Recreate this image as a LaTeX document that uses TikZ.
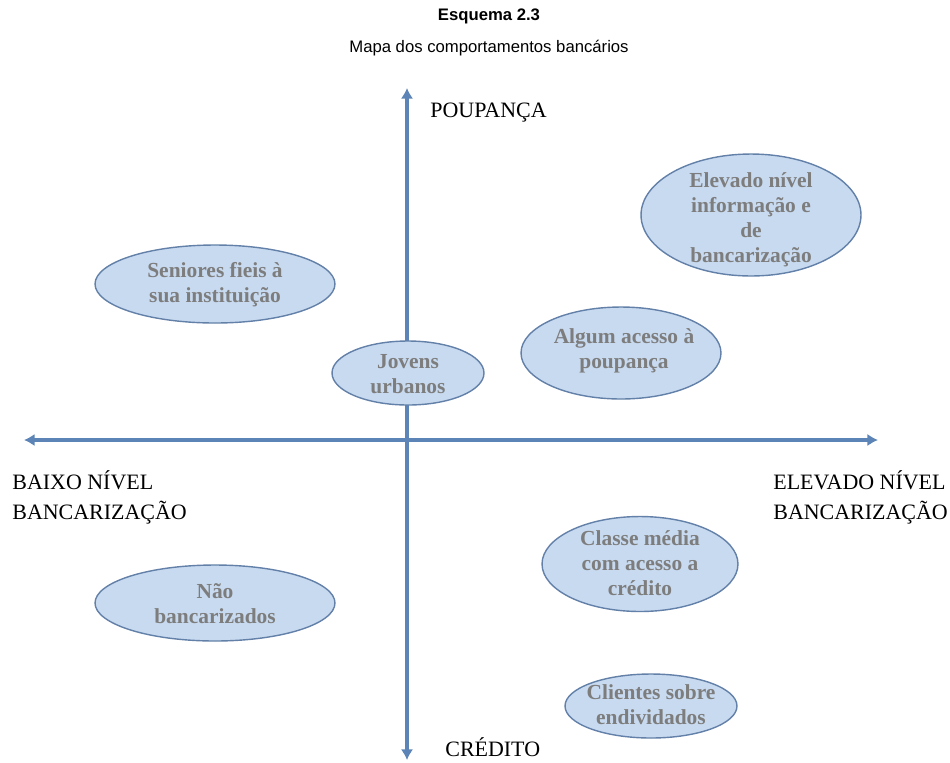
\documentclass[tikz,border=0pt]{standalone}
\usepackage{fontspec}
\setmainfont{Liberation Serif}
\newfontfamily\arialf{Liberation Sans}
\usetikzlibrary{arrows.meta}
\definecolor{eixo}{RGB}{92,132,182}
\definecolor{preench}{RGB}{200,218,240}
\definecolor{borda}{RGB}{98,128,168}
\definecolor{cinza}{RGB}{125,125,125}
\tikzset{
  grupo/.style={fill=preench, draw=borda, line width=0.8pt},
  texto/.style={text=cinza, font=\fontsize{12.2}{14.2}\selectfont\bfseries, align=center, inner sep=0pt},
  rotulo/.style={font=\fontsize{12.5}{17}\selectfont, align=left, inner sep=0pt, anchor=west}
}
\begin{document}
\begin{tikzpicture}[x=0.02cm, y=-0.02cm, >={Latex[length=6pt,width=7pt]}]
\useasboundingbox (0,0) rectangle (950,762);

% titulo
\node[font=\arialf\bfseries\fontsize{9.5}{12}\selectfont] (titulo) at (489,16) {Esquema 2.3};
\node[font=\arialf\fontsize{9.5}{12}\selectfont] (subtitulo) at (489,48) {Mapa dos comportamentos bancários};

% eixos
\coordinate (cima) at (407,88);
\coordinate (baixo) at (407,760);
\coordinate (esq) at (24,440);
\coordinate (dir) at (878,440);
\draw[<->, eixo, line width=1.8pt] (baixo)--(cima);
\draw[<->, eixo, line width=1.8pt] (esq)--(dir);

\node[rotulo] (poupanca) at (430,113) {POUPANÇA};
\node[rotulo] (baixonivel) at (12,497) {BAIXO NÍVEL\\BANCARIZAÇÃO};
\node[rotulo] (elevadonivel) at (773,497) {ELEVADO NÍVEL\\BANCARIZAÇÃO};
\node[rotulo] (credito) at (445,747) {CRÉDITO};

% grupos
\filldraw[grupo] (751,215) ellipse (2.2cm and 1.22cm);
\node[texto] (elevado) at (751,220) {Elevado nível\\informação e\\de\\bancarização};

\filldraw[grupo] (215,284) ellipse (2.4cm and 0.78cm);
\node[texto] (seniores) at (215,285) {Seniores fieis à\\sua instituição};

\filldraw[grupo] (408,373) ellipse (1.52cm and 0.64cm);
\node[texto] (jovens) at (408,374) {Jovens\\urbanos};

\filldraw[grupo] (621,353) ellipse (2cm and 0.92cm);
\node[texto] (algum) at (624,351) {Algum acesso à\\poupança};

\filldraw[grupo] (640,564) ellipse (1.96cm and 0.95cm);
\node[texto] (classe) at (640,563) {Classe média\\com acesso a\\crédito};

\filldraw[grupo] (215,603) ellipse (2.4cm and 0.76cm);
\node[texto] (nao) at (215,604) {Não\\bancarizados};

\filldraw[grupo] (651,706) ellipse (1.72cm and 0.64cm);
\node[texto] (clientes) at (651,705) {Clientes sobre\\endividados};

\end{tikzpicture}
\end{document}
